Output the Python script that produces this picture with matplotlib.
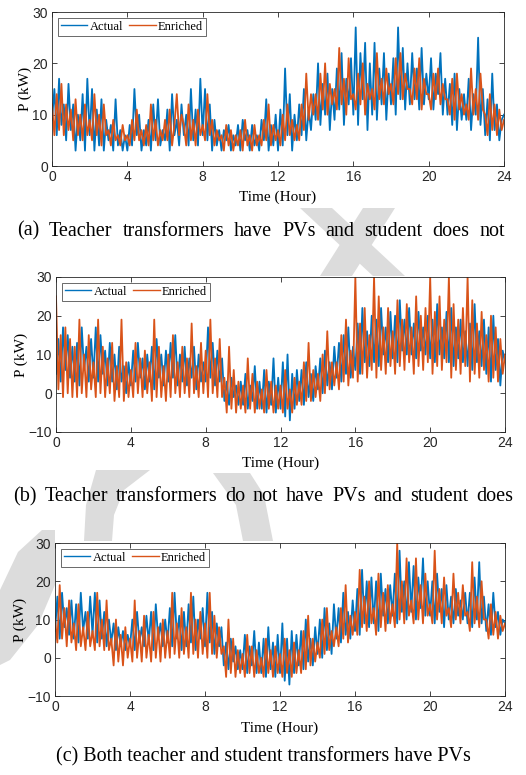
import numpy as np
import matplotlib.pyplot as plt
from matplotlib.patches import Polygon

# 8 readings per hour, 0..24 h
hours = np.arange(0, 24.001, 0.125)

# (a) teacher transformers have PVs, student does not
a_actual = [9, 15, 6, 17, 8, 12, 5, 16,
            7, 12, 3, 10, 5, 14, 3, 17,
            6, 15, 3, 11, 4, 13, 3, 9,
            5, 8, 3, 13, 4, 7, 3, 6,
            3, 8, 4, 15, 6, 10, 3, 7,
            4, 9, 3, 12, 5, 13, 4, 7,
            5, 11, 3, 14, 6, 9, 4, 12,
            6, 10, 4, 15, 5, 11, 4, 17,
            6, 15, 5, 12, 3, 9, 4, 7,
            3, 7, 5, 8, 3, 6, 4, 8,
            3, 9, 5, 7, 3, 8, 4, 6,
            3, 9, 5, 13, 3, 8, 4, 10,
            3, 11, 4, 19, 6, 14, 3, 10,
            5, 12, 6, 15, 5, 11, 7, 14,
            9, 20, 8, 16, 10, 18, 7, 15,
            9, 19, 11, 22, 8, 17, 12, 21,
            10, 27, 8, 22, 13, 24, 7, 20,
            10, 24, 9, 19, 12, 22, 9, 18,
            12, 21, 10, 27, 13, 23, 11, 20,
            12, 22, 13, 19, 11, 23, 12, 18,
            13, 21, 11, 18, 14, 22, 10, 17,
            10, 16, 8, 18, 7, 15, 9, 14,
            9, 17, 7, 14, 10, 25, 8, 15,
            6, 13, 5, 18, 7, 12, 5, 9,
            10]
a_enriched = [12, 6, 14, 7, 16, 6, 12, 7,
              11, 5, 13, 6, 10, 5, 12, 6,
              9, 5, 14, 6, 10, 4, 12, 6,
              7, 4, 9, 5, 6, 4, 8, 5,
              6, 4, 9, 5, 11, 5, 7, 4,
              8, 4, 12, 5, 9, 4, 7, 5,
              9, 5, 11, 4, 8, 14, 6, 10,
              8, 4, 12, 5, 9, 4, 11, 6,
              8, 5, 14, 6, 9, 4, 7, 5,
              6, 3, 8, 4, 7, 3, 6, 4,
              7, 3, 9, 4, 6, 3, 8, 4,
              6, 4, 9, 5, 12, 4, 8, 5,
              7, 4, 10, 5, 12, 6, 9, 5,
              8, 5, 12, 7, 18, 9, 14, 10,
              14, 9, 18, 11, 20, 10, 16, 12,
              15, 11, 23, 12, 17, 10, 21, 13,
              14, 11, 18, 12, 20, 10, 16, 13,
              15, 11, 22, 13, 17, 12, 19, 14,
              16, 12, 21, 14, 22, 13, 18, 15,
              15, 12, 19, 13, 21, 11, 17, 14,
              14, 11, 18, 13, 19, 12, 16, 13,
              13, 10, 17, 9, 18, 11, 14, 10,
              12, 9, 19, 10, 15, 9, 18, 11,
              10, 6, 14, 7, 12, 6, 11, 7,
              9]

# (b) teacher transformers do not have PVs, student does
b_actual = [5, 14, 3, 17, 6, 15, 4, 12,
            3, 13, 2, 17, 6, 12, 3, 14,
            4, 17, 3, 15, 5, 11, 2, 13,
            3, 10, 1, 12, 3, 7, 0, 8,
            2, 11, 3, 13, 4, 9, 1, 10,
            3, 12, 1, 14, 4, 10, 2, 11,
            3, 13, 4, 15, 2, 10, 3, 12,
            2, 9, 4, 12, 1, 10, 3, 8,
            3, 17, 4, 13, 2, 11, 3, 9,
            -2, 3, -3, 4, -1, 2, -3, 3,
            -3, 5, -4, 2, -2, 7, -4, 3,
            -4, 6, -5, 3, -3, 9, -5, 4,
            -4, 8, -6, 10, -7, 5, -4, 6,
            -2, 6, -3, 8, -1, 5, -2, 7,
            1, 9, 0, 11, 2, 8, 1, 12,
            4, 13, 3, 15, 5, 17, 4, 12,
            6, 18, 5, 22, 8, 16, 7, 20,
            8, 19, 7, 22, 10, 17, 8, 21,
            9, 20, 8, 24, 11, 19, 10, 22,
            10, 18, 9, 21, 11, 17, 10, 20,
            9, 19, 8, 23, 10, 17, 9, 21,
            8, 22, 7, 17, 9, 19, 8, 16,
            7, 18, 6, 23, 8, 16, 7, 19,
            5, 17, 3, 20, 6, 14, 2, 11,
            8]
b_enriched = [25, 1, 15, -1, 17, 0, 14, -1,
              12, -1, 19, 0, 10, -1, 15, 1,
              8, -1, 19, 0, 12, -1, 9, 0,
              13, -2, 7, -1, 19, -2, 8, -1,
              6, -1, 13, 0, 9, -1, 11, 0,
              8, -2, 19, -1, 12, -1, 7, -2,
              10, -1, 15, 0, 8, -1, 12, 0,
              9, -1, 18, 0, 7, -1, 13, 0,
              11, -1, 19, 0, 9, -1, 14, -1,
              4, -5, 12, -4, 6, -5, 3, -4,
              2, -5, 9, -4, 5, -5, 3, -4,
              1, -5, 6, -4, 3, -5, 2, -4,
              2, -5, 6, -4, 1, -5, 4, -3,
              3, -3, 8, -2, 13, -2, 6, -1,
              5, -2, 10, 0, 16, 1, 8, 2,
              8, 1, 15, 3, 19, 2, 11, 4,
              30, 3, 18, 5, 22, 4, 15, 6,
              30, 4, 25, 6, 17, 5, 22, 7,
              16, 5, 24, 7, 19, 6, 23, 8,
              17, 5, 25, 7, 20, 6, 22, 8,
              30, 5, 21, 7, 25, 6, 19, 8,
              30, 4, 23, 6, 19, 5, 22, 7,
              30, 3, 24, 5, 18, 4, 21, 6,
              15, 3, 20, 4, 17, 3, 14, 5,
              10]

# (c) both teacher and student transformers have PVs
c_actual = [7, 16, 5, 17, 8, 13, 6, 15,
            5, 14, 4, 17, 7, 12, 5, 16,
            6, 17, 4, 15, 5, 12, 3, 10,
            4, 9, 2, 8, 3, 7, 2, 6,
            3, 10, 2, 12, 4, 8, 3, 11,
            4, 12, 2, 14, 5, 9, 3, 10,
            4, 13, 3, 17, 5, 11, 2, 12,
            3, 14, 4, 16, 2, 10, 5, 13,
            3, 17, 4, 12, 1, 9, 3, 8,
            -2, 4, -3, 5, -1, 3, -3, 2,
            -3, 6, -4, 3, -2, 7, -4, 4,
            -4, 5, -5, 8, -3, 4, -5, 6,
            -4, 9, -6, 5, -7, 7, -4, 6,
            -2, 7, -3, 10, -1, 5, -2, 8,
            1, 10, 0, 13, 2, 9, 1, 14,
            5, 13, 4, 17, 6, 12, 5, 15,
            7, 18, 6, 23, 9, 20, 8, 21,
            9, 20, 7, 22, 11, 18, 9, 19,
            11, 22, 9, 28, 12, 20, 10, 25,
            12, 24, 10, 21, 13, 26, 11, 20,
            11, 20, 9, 22, 12, 18, 8, 19,
            10, 16, 9, 18, 11, 15, 10, 17,
            9, 17, 8, 21, 10, 25, 9, 16,
            7, 14, 6, 17, 8, 12, 6, 10,
            9]
c_enriched = [10, 4, 19, 5, 13, 3, 15, 4,
              9, 2, 14, 3, 8, 2, 12, 3,
              7, 2, 17, 3, 10, 2, 15, 2,
              5, -2, 10, -1, 6, -2, 8, 0,
              5, -1, 15, 0, 7, -1, 11, 0,
              6, -1, 12, 0, 8, -1, 10, 0,
              7, 0, 17, 1, 9, 0, 13, 1,
              8, 0, 17, 1, 10, 0, 12, 1,
              9, 0, 17, 1, 11, 0, 8, 1,
              3, -5, 10, -4, 5, -5, 2, -4,
              1, -5, 6, -4, 3, -5, 2, -4,
              0, -5, 5, -4, 2, -5, 3, -4,
              1, -5, 5, -4, 2, -5, 4, -4,
              2, -4, 7, -3, 11, -2, 5, -1,
              4, 0, 10, 1, 13, 2, 7, 3,
              8, 3, 13, 5, 19, 4, 11, 6,
              12, 6, 23, 8, 16, 7, 20, 9,
              13, 6, 22, 8, 17, 7, 19, 9,
              14, 8, 30, 10, 20, 9, 26, 11,
              15, 9, 26, 10, 19, 9, 22, 11,
              14, 9, 28, 10, 18, 9, 21, 11,
              13, 8, 22, 10, 17, 9, 19, 11,
              12, 7, 25, 9, 16, 8, 20, 10,
              10, 5, 14, 6, 12, 5, 11, 7,
              9]

captions = ["(a) Teacher transformers have PVs and student does not",
            "(b) Teacher transformers do not have PVs and student does",
            "(c) Both teacher and student transformers have PVs"]
x_ticks = [0, 4, 8, 12, 16, 20, 24]
y_limits = [(0, 30), (-10, 30), (-10, 30)]
y_ticks = [[0, 10, 20, 30], [-10, 0, 10, 20, 30], [-10, 0, 10, 20, 30]]

blue = '#0072BD'
orange = '#D95319'
serif = 'Liberation Serif'
sans = 'Liberation Sans'
W, H = 526, 775

fig = plt.figure(figsize=(W / 100, H / 100), dpi=100)

def px(x, y):
    return (x / W, 1 - y / H)

# light grey watermark behind everything (pixel outlines from the reference)
mark_color = '#dcdcdc'
shapes = [[(300, 208), (332, 208), (405, 276), (373, 276)],
          [(363, 208), (395, 208), (352, 276), (320, 276)],
          [(96, 470), (150, 470), (124, 490), (114, 515), (112, 541), (84, 541), (86, 505)],
          [(213, 473), (250, 473), (264, 495), (273, 541), (243, 541), (236, 505)],
          [(42, 530), (55, 530), (55, 585), (38, 625), (10, 660), (0, 665), (0, 590), (18, 552)]]
for s in shapes:
    fig.patches.append(Polygon([px(*p) for p in s], closed=True, transform=fig.transFigure,
                               facecolor=mark_color, edgecolor='none', zorder=-5))

boxes = [[0.0989, 0.7858, 0.8593, 0.1987],
         [0.1065, 0.4426, 0.8536, 0.2000],
         [0.1046, 0.1019, 0.8555, 0.1974]]
xlabel_y = [197, 463, 728]
caption_y = [231, 497, 757]
# caption (a) and (b) are justified across the column, (c) is centred
caption_span = [(17, 505), (13, 513), None]

series = [(a_actual, a_enriched), (b_actual, b_enriched), (c_actual, c_enriched)]

for i in range(3):
    ax = fig.add_axes(boxes[i])
    act, enr = series[i]
    ax.plot(hours, act, color=blue, lw=1.3, label='Actual')
    ax.plot(hours, enr, color=orange, lw=1.3, label='Enriched')
    ax.set_xlim(0, 24)
    ax.set_ylim(*y_limits[i])
    ax.set_xticks(x_ticks)
    ax.set_yticks(y_ticks[i])
    ax.tick_params(direction='in', top=True, right=True, length=3.5, width=0.6,
                   labelsize=10, colors='#262626', pad=3)
    for lab in ax.get_xticklabels() + ax.get_yticklabels():
        lab.set_fontfamily(sans)
    for sp in ax.spines.values():
        sp.set_linewidth(0.6)
        sp.set_color('#262626')
    ax.set_ylabel('P (kW)', fontfamily=serif, fontsize=11, labelpad=0)
    leg = ax.legend(loc='upper left', ncol=2, frameon=True, fancybox=False,
                    prop={'family': serif, 'size': 9}, handlelength=2.1,
                    handletextpad=0.2, columnspacing=0.5, borderpad=0.25,
                    borderaxespad=0.45)
    leg.get_frame().set_edgecolor('#262626')
    leg.get_frame().set_linewidth(0.6)
    for ln in leg.get_lines():
        ln.set_linewidth(1.0)
    fig.text(boxes[i][0] + boxes[i][2] / 2, 1 - xlabel_y[i] / H, 'Time (Hour)',
             ha='center', va='center', fontfamily=serif, fontsize=11)

cap_size = 14.5
renderer = fig.canvas.get_renderer()
for i in range(3):
    yy = 1 - caption_y[i] / H
    if caption_span[i] is None:
        fig.text(0.5, yy, captions[i], ha='center', va='center',
                 fontfamily=serif, fontsize=cap_size)
        continue
    words = captions[i].split(' ')
    items = [fig.text(0, yy, w, ha='left', va='center', fontfamily=serif, fontsize=cap_size)
             for w in words]
    widths = [t.get_window_extent(renderer).width for t in items]
    x0, x1 = caption_span[i]
    gap = (x1 - x0 - sum(widths)) / (len(words) - 1)
    x = x0
    for t, w in zip(items, widths):
        t.set_x(x / W)
        x += w + gap

fig.savefig('out.png', dpi=100)
